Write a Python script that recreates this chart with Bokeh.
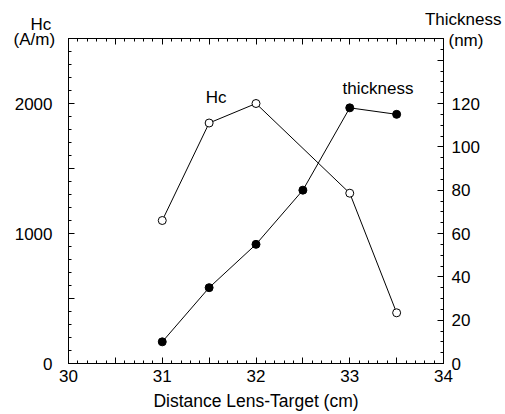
from bokeh.plotting import figure
from bokeh.models import (Range1d, LinearAxis, FixedTicker, Label, Title)
from bokeh.embed import file_html
from bokeh.resources import INLINE

# ---- data ----
hc_x = [31, 31.5, 32, 33, 33.5]
hc_y = [1100, 1850, 2000, 1310, 390]
th_x = [31, 31.5, 32, 32.5, 33, 33.5]
th_y = [10, 35, 55, 80, 118, 115]

x_ticks = [30, 30.5, 31, 31.5, 32, 32.5, 33, 33.5, 34]
x_minor = [round(30 + 0.1 * i, 1) for i in range(41)]
hc_ticks = [0, 500, 1000, 1500, 2000, 2500]
hc_minor = [100 * i for i in range(26)]
th_ticks = [0, 20, 40, 60, 80, 100, 120, 140]
th_minor = [5 * i for i in range(31)]

FONT = "Liberation Sans"
FS = "17px"

p = figure(frame_width=375, frame_height=325, width=505, height=414,
           x_range=Range1d(30, 34), y_range=Range1d(0, 2500),
           output_backend="svg", toolbar_location=None,
           x_axis_location=None, y_axis_location=None,
           min_border_left=68, min_border_right=62,
           min_border_top=38, min_border_bottom=51)
p.extra_y_ranges = {"t": Range1d(0, 150)}
p.xgrid.visible = False
p.ygrid.visible = False
p.outline_line_color = "black"
p.background_fill_color = "white"
p.border_fill_color = "white"


def style(ax, standoff):
    ax.axis_line_color = "black"
    ax.major_tick_line_color = "black"
    ax.minor_tick_line_color = "black"
    ax.major_tick_in = 6
    ax.major_tick_out = 0
    ax.minor_tick_in = 3
    ax.minor_tick_out = 0
    ax.major_label_text_font = FONT
    ax.major_label_text_font_size = FS
    ax.major_label_text_color = "black"
    ax.major_label_standoff = standoff
    ax.axis_label_text_font = FONT
    ax.axis_label_text_font_size = "17.5px"
    ax.axis_label_text_font_style = "normal"
    ax.axis_label_text_color = "black"


xb = LinearAxis(ticker=FixedTicker(ticks=x_ticks, minor_ticks=x_minor),
                axis_label="Distance Lens-Target (cm)")
style(xb, 6)
xb.axis_label_standoff = 6
ov = {t: "" for t in x_ticks if t != int(t)}
ov.update({t: str(int(t)) for t in x_ticks if t == int(t)})
xb.major_label_overrides = ov
p.add_layout(xb, "below")

xt = LinearAxis(ticker=FixedTicker(ticks=x_ticks, minor_ticks=x_minor))
style(xt, 0)
xt.major_label_overrides = {t: "" for t in x_ticks}
p.add_layout(xt, "above")

yl = LinearAxis(ticker=FixedTicker(ticks=hc_ticks, minor_ticks=hc_minor))
style(yl, 16)
yl.major_label_overrides = {500: "", 1500: "", 2500: ""}
p.add_layout(yl, "left")

yr = LinearAxis(y_range_name="t", ticker=FixedTicker(ticks=th_ticks, minor_ticks=th_minor))
style(yr, 8)
yr.major_label_overrides = {140: ""}
p.add_layout(yr, "right")

# ---- series ----
p.line(hc_x, hc_y, line_color="black", line_width=1)
p.scatter(hc_x, hc_y, size=8, marker="circle", fill_color="white",
          line_color="black", line_width=1)
p.line(th_x, th_y, line_color="black", line_width=1, y_range_name="t")
p.scatter(th_x, th_y, size=8, marker="circle", fill_color="black",
          line_color="black", y_range_name="t")


# ---- axis titles (outside the frame, as Title panels) ----
def ttl(text, align, offset, valign, standoff):
    p.add_layout(Title(text=text, align=align, offset=offset,
                       vertical_align=valign, standoff=standoff,
                       text_font=FONT, text_font_size=FS,
                       text_font_style="normal", text_color="black"), "above")

ttl("(nm)", "left", 380, "bottom", -23)
ttl("(A/m)", "left", -55, "bottom", -20)
ttl("Hc", "left", -38, "top", -45)
ttl("Thickness", "right", -58, "top", 13)


# ---- in-plot annotations ----
def lab(x, y, t):
    p.add_layout(Label(x=x, y=y, text=t, text_font=FONT, text_font_size=FS,
                       text_color="black", text_align="left",
                       text_baseline="alphabetic"))

lab(31.465, 2046, "Hc")
lab(32.923, 2115, "thickness")

open("out.html", "w").write(file_html(p, INLINE))
